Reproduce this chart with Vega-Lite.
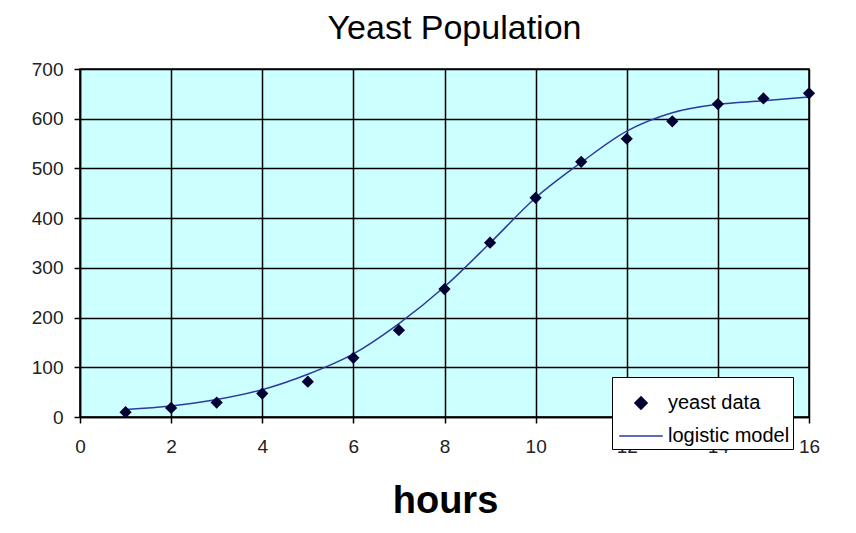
{
  "$schema": "https://vega.github.io/schema/vega-lite/v6.json",
  "width": 729,
  "height": 348,
  "autosize": "none",
  "padding": {"left": 80, "top": 69, "right": 47, "bottom": 116},
  "background": "white",
  "title": {
    "text": "Yeast Population",
    "font": "Liberation Sans",
    "fontSize": 34,
    "fontWeight": "normal",
    "color": "#000000",
    "anchor": "middle",
    "dx": 10,
    "offset": 14
  },
  "config": {
    "view": {"fill": "#ccffff", "stroke": "#000000", "strokeWidth": 1.5},
    "axis": {
      "grid": true,
      "gridColor": "#000000",
      "gridWidth": 1.5,
      "gridOpacity": 1,
      "domainColor": "#000000",
      "domainWidth": 1.5,
      "tickColor": "#000000",
      "tickWidth": 1.5,
      "tickSize": 6,
      "labelFont": "Liberation Sans",
      "labelFontSize": 19,
      "labelColor": "#222222",
      "labelFontWeight": "normal"
    }
  },
  "datasets": {
    "yeast": [
      {"hours": 1, "population": 9.6, "series": "yeast data"},
      {"hours": 2, "population": 18.3, "series": "yeast data"},
      {"hours": 3, "population": 29.0, "series": "yeast data"},
      {"hours": 4, "population": 47.2, "series": "yeast data"},
      {"hours": 5, "population": 71.1, "series": "yeast data"},
      {"hours": 6, "population": 119.1, "series": "yeast data"},
      {"hours": 7, "population": 174.6, "series": "yeast data"},
      {"hours": 8, "population": 257.3, "series": "yeast data"},
      {"hours": 9, "population": 350.7, "series": "yeast data"},
      {"hours": 10, "population": 441.0, "series": "yeast data"},
      {"hours": 11, "population": 513.3, "series": "yeast data"},
      {"hours": 12, "population": 559.7, "series": "yeast data"},
      {"hours": 13, "population": 594.8, "series": "yeast data"},
      {"hours": 14, "population": 629.4, "series": "yeast data"},
      {"hours": 15, "population": 640.8, "series": "yeast data"},
      {"hours": 16, "population": 651.1, "series": "yeast data"}
    ],
    "model": [
      {"hours": 1, "population": 15, "series": "logistic model"},
      {"hours": 2, "population": 22, "series": "logistic model"},
      {"hours": 3, "population": 35, "series": "logistic model"},
      {"hours": 4, "population": 55, "series": "logistic model"},
      {"hours": 5, "population": 86, "series": "logistic model"},
      {"hours": 6, "population": 127, "series": "logistic model"},
      {"hours": 7, "population": 188, "series": "logistic model"},
      {"hours": 8, "population": 262, "series": "logistic model"},
      {"hours": 9, "population": 350, "series": "logistic model"},
      {"hours": 10, "population": 441, "series": "logistic model"},
      {"hours": 11, "population": 512, "series": "logistic model"},
      {"hours": 12, "population": 575, "series": "logistic model"},
      {"hours": 13, "population": 612, "series": "logistic model"},
      {"hours": 14, "population": 629, "series": "logistic model"},
      {"hours": 15, "population": 636, "series": "logistic model"},
      {"hours": 16, "population": 644, "series": "logistic model"}
    ]
  },
  "encoding": {
    "x": {
      "field": "hours",
      "type": "quantitative",
      "scale": {"domain": [0, 16], "nice": false},
      "axis": {
        "values": [0, 2, 4, 6, 8, 10, 12, 14, 16],
        "title": "hours",
        "titleFont": "Liberation Sans",
        "titleFontSize": 38,
        "titleFontWeight": "bold",
        "titleColor": "#000000",
        "titleX": 365,
        "titleY": 95,
        "titleBaseline": "alphabetic",
        "labelPadding": 14,
        "labelFlush": false
      }
    },
    "y": {
      "field": "population",
      "type": "quantitative",
      "scale": {"domain": [0, 700], "nice": false},
      "axis": {
        "values": [0, 100, 200, 300, 400, 500, 600, 700],
        "title": null,
        "labelPadding": 11
      }
    },
    "color": {
      "field": "series",
      "type": "nominal",
      "scale": {"domain": ["yeast data", "logistic model"], "range": ["#000033", "#2e3a9e"]},
      "legend": {
        "title": null,
        "orient": "none",
        "legendX": 532,
        "legendY": 308,
        "fillColor": "#ffffff",
        "strokeColor": "#000000",
        "padding": 3,
        "labelFont": "Liberation Sans",
        "labelFontSize": 20,
        "labelColor": "#000000",
        "labelOffset": 4,
        "symbolOffset": 3,
        "symbolSize": 1900,
        "rowPadding": -5,
        "encode": {
          "symbols": {
            "update": {
              "shape": {"signal": "datum.value === 'yeast data' ? 'diamond' : 'stroke'"},
              "size": {"signal": "datum.value === 'yeast data' ? 150 : 1900"},
              "fill": {"signal": "datum.value === 'yeast data' ? '#000033' : '#2e3a9e'"},
              "stroke": {"signal": "datum.value === 'yeast data' ? '#000033' : '#2e3a9e'"},
              "strokeWidth": {"value": 1.5},
              "opacity": {"value": 1}
            }
          }
        }
      }
    }
  },
  "layer": [
    {
      "data": {"name": "model"},
      "mark": {"type": "line", "interpolate": "monotone", "strokeWidth": 1.5}
    },
    {
      "data": {"name": "yeast"},
      "mark": {"type": "point", "shape": "diamond", "filled": true, "size": 150, "opacity": 1}
    }
  ]
}
